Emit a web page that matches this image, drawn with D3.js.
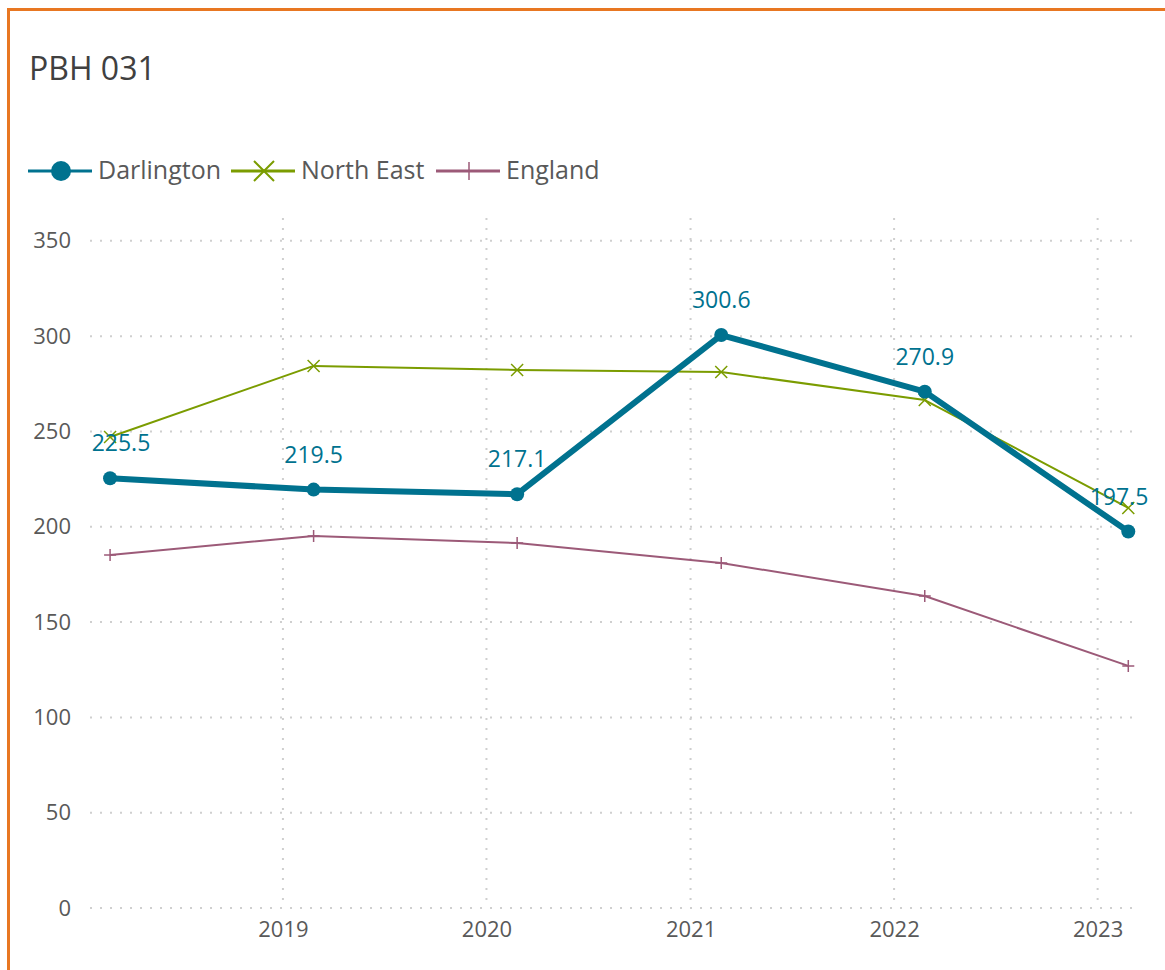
<!DOCTYPE html>
<html>
<head>
<meta charset="utf-8">
<script src="https://cdnjs.cloudflare.com/ajax/libs/d3/7.8.5/d3.min.js"></script>
<style>
  body { margin: 0; background: #fff; }
  text { font-family: "Open Sans", "Noto Sans", sans-serif; }
</style>
</head>
<body>
<div id="chart"></div>
<script>
// data
var dates = ['2018-02-25', '2019-02-25', '2020-02-25', '2021-02-25', '2022-02-25', '2023-02-25'];
var darlington = [225.5, 219.5, 217.1, 300.6, 270.9, 197.5];
var northEast = [247.1, 284.4, 282.3, 281.2, 266.5, 209.9];
var england = [185.2, 195.2, 191.5, 181.0, 163.7, 127.0];
var yTicks = [0, 50, 100, 150, 200, 250, 300, 350];
var xTickYears = [2019, 2020, 2021, 2022, 2023];

var W = 1165, H = 970;
var plotLeft = 90, plotRight = 1140, plotTop = 218, plotBottom = 908;

var parse = d3.timeParse('%Y-%m-%d');

var svg = d3.select('#chart')
    .append('svg')
    .attr('width', W)
    .attr('height', H);

// border (left + top)
svg.append('rect')
    .attr('x', 8.5).attr('y', 9.5)
    .attr('width', W + 20).attr('height', H + 20)
    .attr('fill', 'none')
    .attr('stroke', '#e87722')
    .attr('stroke-width', 3);

svg.append('text')
    .attr('x', 29).attr('y', 80)
    .attr('font-size', '32px')
    .attr('fill', '#404040')
    .text('PBH 031');

var x = d3.scaleTime()
    .domain([parse('2018-01-20'), parse('2023-03-18')])
    .range([plotLeft, plotRight]);

var y = d3.scaleLinear()
    .domain([0, 362])
    .range([plotBottom, plotTop]);

// grid
var grid = svg.append('g');
grid.selectAll('.hg')
    .data(yTicks)
    .enter().append('line')
    .attr('x1', plotLeft).attr('x2', plotRight)
    .attr('y1', function (d) { return y(d); })
    .attr('y2', function (d) { return y(d); })
    .attr('stroke', '#cfcfcf')
    .attr('stroke-width', 2)
    .attr('stroke-dasharray', '2,8');

grid.selectAll('.vg')
    .data(xTickYears)
    .enter().append('line')
    .attr('x1', function (d) { return x(new Date(d, 0, 1)); })
    .attr('x2', function (d) { return x(new Date(d, 0, 1)); })
    .attr('y1', plotTop).attr('y2', plotBottom)
    .attr('stroke', '#cfcfcf')
    .attr('stroke-width', 2)
    .attr('stroke-dasharray', '2,8');

// axes (labels only)
var yAxis = svg.append('g')
    .attr('transform', 'translate(' + (plotLeft - 19) + ',0)')
    .call(d3.axisLeft(y).tickValues(yTicks).tickSize(0).tickPadding(0));
yAxis.select('.domain').remove();
yAxis.selectAll('text')
    .attr('font-size', '22px')
    .attr('fill', '#595959')
    .attr('font-family', '"Open Sans", sans-serif');

var xAxis = svg.append('g')
    .attr('transform', 'translate(0,' + (plotBottom + 13) + ')')
    .call(d3.axisBottom(x)
        .tickValues(xTickYears.map(function (d) { return new Date(d, 0, 1); }))
        .tickFormat(d3.timeFormat('%Y'))
        .tickSize(0).tickPadding(0));
xAxis.select('.domain').remove();
xAxis.selectAll('text')
    .attr('font-size', '22px')
    .attr('fill', '#595959')
    .attr('font-family', '"Open Sans", sans-serif');

function toPts(vals) {
    return vals.map(function (v, i) { return { date: parse(dates[i]), value: v }; });
}

var line = d3.line()
    .x(function (d) { return x(d.date); })
    .y(function (d) { return y(d.value); });

var series = [
    { name: 'Darlington', values: toPts(darlington), color: '#00728f', width: 6, marker: 'circle' },
    { name: 'North East', values: toPts(northEast), color: '#7b9c00', width: 2, marker: 'cross' },
    { name: 'England', values: toPts(england), color: '#9c5a78', width: 2, marker: 'plus' }
];

function drawMarker(g, type, color, cx, cy, big) {
    if (type === 'circle') {
        g.append('circle').attr('cx', cx).attr('cy', cy).attr('r', big ? 10 : 7).attr('fill', color);
    } else if (type === 'cross') {
        var s = big ? 10 : 6;
        g.append('path')
            .attr('d', 'M' + (cx - s) + ',' + (cy - s) + 'L' + (cx + s) + ',' + (cy + s) +
                'M' + (cx - s) + ',' + (cy + s) + 'L' + (cx + s) + ',' + (cy - s))
            .attr('stroke', color).attr('stroke-width', big ? 2 : 1.5).attr('fill', 'none');
    } else {
        var p = big ? 9 : 6;
        g.append('path')
            .attr('d', 'M' + (cx - p) + ',' + cy + 'L' + (cx + p) + ',' + cy +
                'M' + cx + ',' + (cy - p) + 'L' + cx + ',' + (cy + p))
            .attr('stroke', color).attr('stroke-width', 1.5).attr('fill', 'none');
    }
}

// draw England, North East, then Darlington on top
[series[2], series[1], series[0]].forEach(function (s) {
    var g = svg.append('g');
    g.append('path')
        .datum(s.values)
        .attr('d', line)
        .attr('fill', 'none')
        .attr('stroke', s.color)
        .attr('stroke-width', s.width)
        .attr('stroke-linejoin', 'round');
    s.values.forEach(function (d) {
        drawMarker(g, s.marker, s.color, x(d.date), y(d.value), false);
    });
});

// data labels for Darlington
svg.append('g').selectAll('text')
    .data(series[0].values)
    .enter().append('text')
    .attr('x', function (d) { return Math.max(plotLeft + 31, Math.min(1119, x(d.date))); })
    .attr('y', function (d) { return y(d.value) - 27; })
    .attr('text-anchor', 'middle')
    .attr('font-size', '23px')
    .attr('fill', '#00728f')
    .text(function (d) { return d.value.toFixed(1); });

// legend
var legendX = [28, 231, 436];
series.forEach(function (s, i) {
    var g = svg.append('g');
    var lx = legendX[i], ly = 171;
    g.append('line')
        .attr('x1', lx).attr('x2', lx + 64)
        .attr('y1', ly).attr('y2', ly)
        .attr('stroke', s.color)
        .attr('stroke-width', 3);
    drawMarker(g, s.marker, s.color, lx + 33, ly, true);
    g.append('text')
        .attr('x', lx + 70).attr('y', ly + 8)
        .attr('font-size', '25px')
        .attr('fill', '#595959')
        .text(s.name);
});
</script>
</body>
</html>
